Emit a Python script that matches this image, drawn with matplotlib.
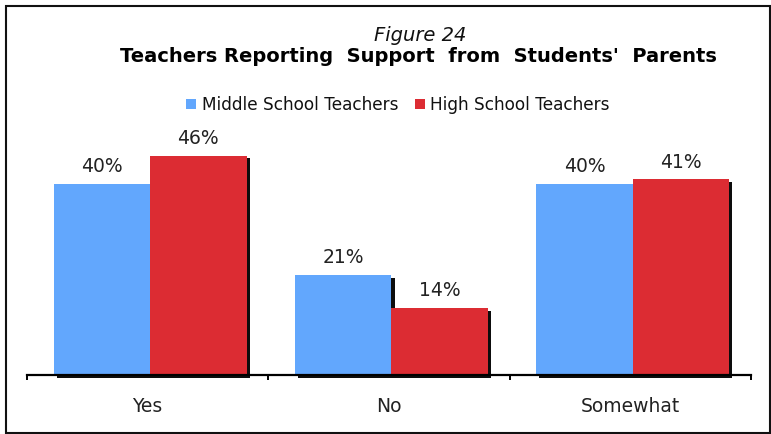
import matplotlib
matplotlib.use("Agg")
import matplotlib.pyplot as plt
import matplotlib.patheffects as pe
from matplotlib.patches import Patch, Rectangle
import numpy as np

plt.rcParams['font.family'] = ['DejaVu Sans']

categories = ["Yes", "No", "Somewhat"]
series_names = ["Middle School Teachers", "High School Teachers"]
middle_school = [40, 21, 40]
high_school = [46, 14, 41]
colors = ["#62A7FD", "#DC2C33"]

W, H = 771, 434
fig = plt.figure(figsize=(W / 100, H / 100), dpi=100)

def fx(px):
    return px / W

def fy(py):
    return (H - py) / H

# plot area: baseline at y=375 px, spans x 27..751 px
ax = fig.add_axes([fx(27), fy(375), fx(751) - fx(27), fy(375 - 4.77 * 50) - fy(375)])
ax.set_xlim(-0.5, 2.5)
ax.set_ylim(0, 50)

x = np.arange(len(categories))
width = 0.4
shadow = [pe.SimplePatchShadow(offset=(2.3, -2.0), shadow_rgbFace="black", alpha=0.95),
          pe.Normal()]

for i, (vals, col) in enumerate(zip([middle_school, high_school], colors)):
    pos = x + (i - 0.5) * width + 0.01
    bars = ax.bar(pos, vals, width=width, color=col, zorder=2 + i,
                  clip_on=False, label=series_names[i])
    for b in bars:
        b.set_path_effects(shadow)
    for p, v in zip(pos, vals):
        ax.annotate(f"{v}%", xy=(p, v), xytext=(0, 8.5), textcoords="offset points",
                    ha="center", va="baseline", fontsize=13.5, color="#222222")

for s in ["left", "right", "top"]:
    ax.spines[s].set_visible(False)
ax.spines["bottom"].set_linewidth(1.6)
ax.spines["bottom"].set_zorder(10)
ax.set_yticks([])
ax.set_xticks(x)
ax.set_xticklabels(categories, fontsize=13.5, color="#222222")
ax.tick_params(axis="x", which="major", length=0, pad=16)
ax.set_xticks([-0.5, 0.5, 1.5, 2.5], minor=True)
ax.tick_params(axis="x", which="minor", length=3.5, width=1.4, direction="out")
ax.patch.set_alpha(0)

# titles
fig.text(fx(420), fy(41), "Figure 24", ha="center", va="baseline",
         fontsize=14, style="italic", color="#111111")
fig.text(fx(418), fy(62), "Teachers Reporting  Support  from  Students'  Parents",
         ha="center", va="baseline", fontsize=14, fontweight="bold", color="#000000")

# legend
handles = [Patch(facecolor=c, edgecolor="none") for c in colors]
fig.legend(handles, series_names, loc="center", bbox_to_anchor=(fx(398), fy(105)),
           ncol=2, frameon=False, fontsize=12.2, handlelength=0.6, handleheight=0.6,
           handletextpad=0.3, columnspacing=1.0, borderaxespad=0, borderpad=0,
           labelcolor="#111111")

# outer frame
fig.patches.append(Rectangle((fx(5.5), fy(433)), fx(769.5) - fx(5.5), fy(6) - fy(433),
                             transform=fig.transFigure, fill=False,
                             edgecolor="#111111", linewidth=1.5))

fig.savefig("out.png", dpi=100)
